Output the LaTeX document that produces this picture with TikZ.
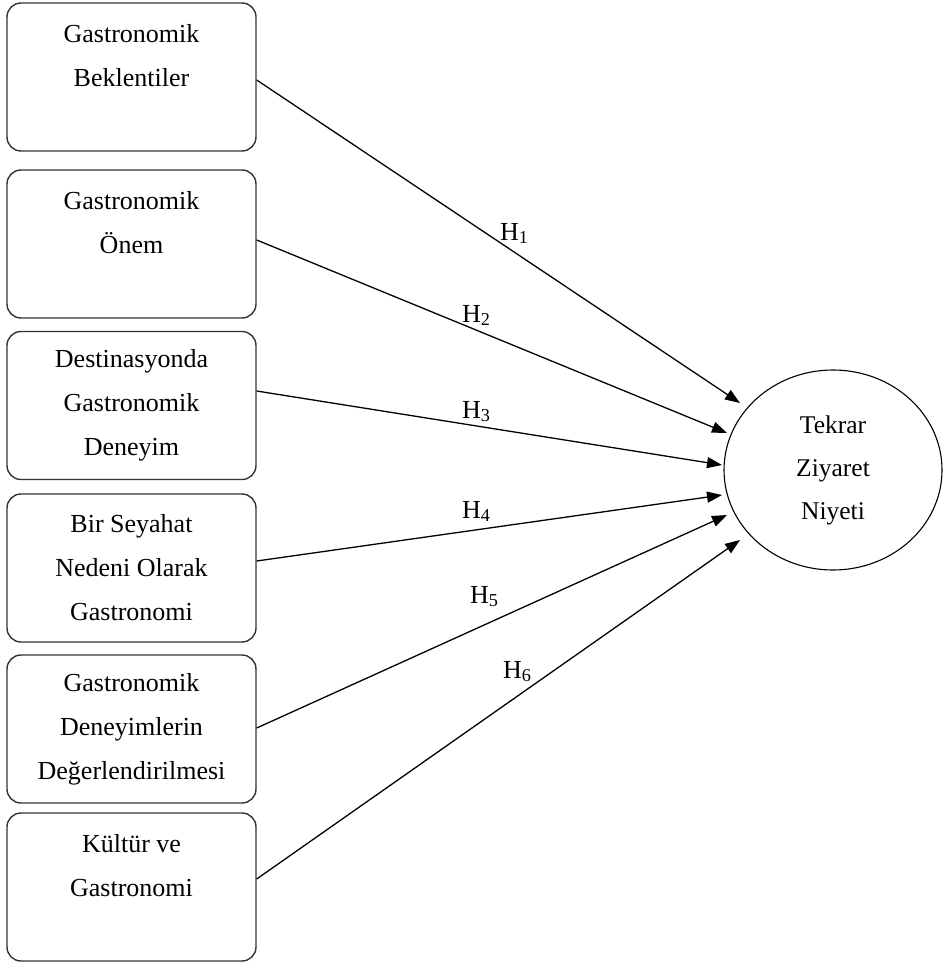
\documentclass[tikz,border=0pt]{standalone}
\usepackage{fontspec}
\setmainfont{Liberation Serif}
\usetikzlibrary{arrows.meta,shapes.geometric}
\begin{document}
\begin{tikzpicture}[x=1pt,y=-1pt,
  factor/.style={draw=black!80, line width=1.4pt, rounded corners=14pt,
    minimum width=249pt, minimum height=148pt, inner sep=0pt,
    align=center, font=\fontsize{26}{44}\selectfont},
  outcome/.style={ellipse, draw=black, line width=1.1pt,
    minimum width=218pt, minimum height=200pt, inner sep=0pt,
    align=center, font=\fontsize{25.5}{43}\selectfont},
  link/.style={line width=1.3pt, -{Triangle[length=15pt,width=11pt]}},
  hyp/.style={anchor=base west, inner sep=0pt, font=\fontsize{26}{30}\selectfont}]
\useasboundingbox (0,0) rectangle (944,963);

% antecedent constructs
\node[factor] (b1) at (131.5,77)    {Gastronomik\\Beklentiler\\\mbox{}};
\node[factor] (b2) at (131.5,244)   {Gastronomik\\Önem\\\mbox{}};
\node[factor] (b3) at (131.5,405.5) {Destinasyonda\\Gastronomik\\Deneyim};
\node[factor] (b4) at (131.5,568)   {Bir Seyahat\\Nedeni Olarak\\Gastronomi};
\node[factor] (b5) at (131.5,729)   {Gastronomik\\Deneyimlerin\\Değerlendirilmesi};
\node[factor] (b6) at (131.5,887)   {Kültür ve\\Gastronomi\\\mbox{}};

% outcome construct
\node[outcome] (e) at (833,470) {Tekrar\\Ziyaret\\Niyeti};

% hypothesised paths
\draw[link] ([shift={(0,3)}]b1.east)     -- ([shift={(-93,-67)}]e.center);
\draw[link] ([shift={(0,-4)}]b2.east)    -- ([shift={(-106,-37)}]e.center);
\draw[link] ([shift={(0,-14.5)}]b3.east) -- ([shift={(-111,-5)}]e.center);
\draw[link] ([shift={(0,-7)}]b4.east)    -- ([shift={(-111,25)}]e.center);
\draw[link] ([shift={(0,-1)}]b5.east)    -- ([shift={(-106,45)}]e.center);
\draw[link] ([shift={(0,-8)}]b6.east)    -- ([shift={(-93,70)}]e.center);

% hypothesis labels
\node[hyp] (h1) at (500,240) {H\textsubscript{1}};
\node[hyp] (h2) at (462,322) {H\textsubscript{2}};
\node[hyp] (h3) at (462,418) {H\textsubscript{3}};
\node[hyp] (h4) at (462,518) {H\textsubscript{4}};
\node[hyp] (h5) at (470,603) {H\textsubscript{5}};
\node[hyp] (h6) at (503,678) {H\textsubscript{6}};
\end{tikzpicture}
\end{document}
